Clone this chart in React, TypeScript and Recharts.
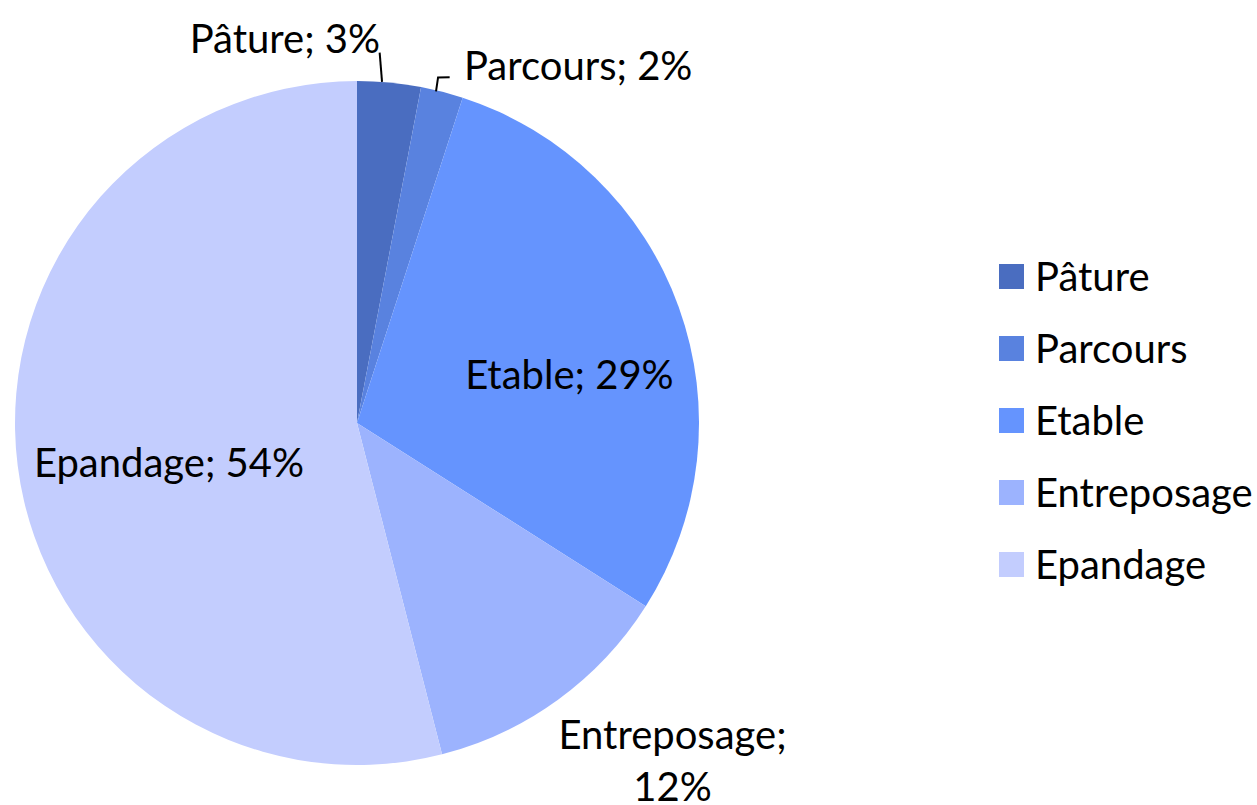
import { PieChart, Pie, Cell, Legend } from "recharts";

const CATEGORIES = ["Pâture", "Parcours", "Etable", "Entreposage", "Epandage"];
const VALUES = [3, 2, 29, 12, 54];
const COLORS = ["#4A6DC0", "#5982DF", "#6594FE", "#9CB3FE", "#C3CDFE"];

// where each data label sits: distance from centre (px) and angle (deg)
const LABEL_POS = [
  { dist: 392, angle: 100.6 },
  { dist: 421, angle: 58.3 },
  { dist: 218, angle: 13 },
  { dist: 461, angle: -46.8 },
  { dist: 192, angle: 191.7 },
];
// leader lines (polar points) for the small slices
const LEADERS: Record<number, [number, number][]> = {
  0: [[342, 85.8], [371, 86.5]],
  1: [[341, 76.6], [355, 76.8], [358, 75]],
};

const FONT = "Lato, 'Open Sans', sans-serif";
const FS = 40;
const data = CATEGORIES.map((name, i) => ({ name, value: VALUES[i] }));

const RAD = Math.PI / 180;

const renderLabel = (props: any) => {
  const { cx, cy, index, name, value } = props;
  const pos = LABEL_POS[index];
  const x = cx + pos.dist * Math.cos(pos.angle * RAD);
  const y = cy - pos.dist * Math.sin(pos.angle * RAD);
  const leader = LEADERS[index];
  const pts = leader
    ? leader.map(([r, a]) => `${cx + r * Math.cos(a * RAD)},${cy - r * Math.sin(a * RAD)}`).join(" ")
    : null;
  const twoLines = name === "Entreposage";
  return (
    <g key={`lbl-${index}`}>
      {pts && <polyline points={pts} fill="none" stroke="#000" strokeWidth={2} />}
      {twoLines ? (
        <text x={x} y={y} textAnchor="middle" fontFamily={FONT} fontSize={FS} fill="#000">
          <tspan x={x} dy={-10}>{name};</tspan>
          <tspan x={x} dy={52}>{value}%</tspan>
        </text>
      ) : (
        <text x={x} y={y} textAnchor="middle" dominantBaseline="central" fontFamily={FONT} fontSize={FS} fill="#000">
          {`${name}; ${value}%`}
        </text>
      )}
    </g>
  );
};

const LegendContent = () => (
  <div style={{ fontFamily: FONT, fontSize: FS, color: "#000" }}>
    {CATEGORIES.map((c, i) => (
      <div key={c} style={{ display: "flex", alignItems: "center", height: 72 }}>
        <span style={{ width: 25, height: 25, background: COLORS[i], display: "inline-block", marginRight: 11 }} />
        <span>{c}</span>
      </div>
    ))}
  </div>
);

export default function App() {
  return (
    <div style={{ position: "absolute", left: 0, top: 0, background: "#fff" }}>
      <PieChart width={1257} height={805}>
        <Pie
          data={data}
          dataKey="value"
          nameKey="name"
          cx={352}
          cy={418}
          outerRadius={342}
          startAngle={90}
          endAngle={-270}
          stroke="none"
          label={renderLabel}
          labelLine={false}
          isAnimationActive={false}
        >
          {data.map((d, i) => (
            <Cell key={d.name} fill={COLORS[i]} />
          ))}
        </Pie>
        <Legend
          content={<LegendContent />}
          wrapperStyle={{ left: 999, top: 240, width: 258 }}
        />
      </PieChart>
    </div>
  );
}
